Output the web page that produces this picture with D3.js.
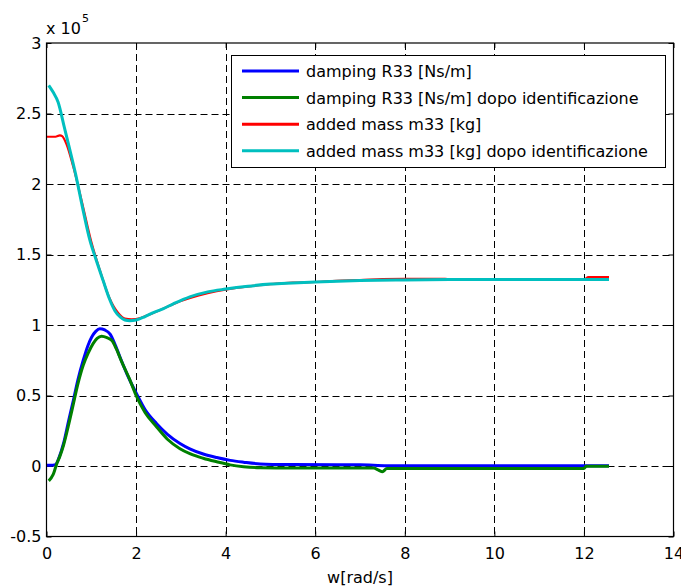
<!DOCTYPE html>
<html><head><meta charset="utf-8">
<script src="https://cdn.jsdelivr.net/npm/d3@7"></script>
<style>body{margin:0;background:#fff}svg{display:block}text{font-family:"DejaVu Sans",sans-serif}</style>
</head><body><svg id="c" width="681" height="588"></svg>
<script>
const xTicks = [0,2,4,6,8,10,12,14];
const yTicks = [-0.5,0,0.5,1,1.5,2,2.5,3];
const yTickLabels = ["-0.5","0","0.5","1","1.5","2","2.5","3"];
const seriesNames = ["damping R33 [Ns/m]","damping R33 [Ns/m] dopo identificazione","added mass m33 [kg]","added mass m33 [kg] dopo identificazione"];
const seriesColors = ["#0000ff","#008000","#ff0000","#00bfbf"];

const blueX = [0,0.1,0.2,0.28,0.38,0.5,0.6,0.7,0.82,0.92,1.01,1.1,1.19,1.3,1.42,1.52,1.64,1.8,2.01,2.2,2.46,2.7,2.98,3.2,3.5,3.8,4.1,4.4,4.77,5.5,6.5,7.0,7.6,9,10.5,12,12.56];
const blueY = [0.005,0.005,0.01,0.06,0.16,0.33,0.466,0.61,0.75,0.85,0.915,0.955,0.974,0.965,0.935,0.87,0.773,0.65,0.513,0.40,0.30,0.225,0.16,0.122,0.085,0.06,0.04,0.027,0.015,0.01,0.008,0.008,0.002,0.002,0.002,0.002,0.002];

const greenX = [0.05,0.15,0.23,0.3,0.38,0.5,0.6,0.7,0.82,0.93,1.04,1.13,1.23,1.35,1.46,1.56,1.68,1.85,2.01,2.2,2.46,2.7,2.98,3.2,3.5,3.8,4.1,4.4,4.77,5.5,6.5,7.3,7.42,7.5,7.6,9,10.5,12.0,12.05,12.56];
const greenY = [-0.105,-0.06,0.017,0.07,0.147,0.30,0.44,0.58,0.714,0.80,0.868,0.905,0.92,0.91,0.89,0.83,0.738,0.62,0.494,0.38,0.277,0.19,0.123,0.088,0.055,0.03,0.008,-0.005,-0.012,-0.015,-0.015,-0.015,-0.03,-0.04,-0.018,-0.018,-0.018,-0.018,-0.002,-0.002];

const redX = [0,0.1,0.2,0.3,0.35,0.45,0.6,0.8,1.0,1.2,1.4,1.6,1.75,1.9,2.1,2.3,2.6,3.0,3.4,3.8,4.2,4.6,5.0,5.5,6.0,6.6,7.0,7.5,8.0,8.9,9.0,10,11,12.0,12.1,12.56];
const redY = [2.335,2.335,2.335,2.345,2.34,2.28,2.12,1.86,1.59,1.38,1.195,1.085,1.045,1.04,1.05,1.075,1.115,1.17,1.21,1.24,1.262,1.277,1.29,1.30,1.305,1.315,1.318,1.326,1.328,1.328,1.322,1.322,1.323,1.323,1.34,1.34];

const cyanX = [0.05,0.15,0.26,0.4,0.5,0.65,0.8,0.97,1.1,1.27,1.4,1.53,1.65,1.75,1.86,2.0,2.2,2.4,2.6,2.83,3.2,3.6,4.0,4.5,5.0,5.5,6.0,7.0,8.0,9.0,10,11,12,12.56];
const cyanY = [2.70,2.65,2.58,2.40,2.27,2.07,1.84,1.60,1.47,1.31,1.19,1.10,1.055,1.035,1.03,1.035,1.06,1.09,1.115,1.15,1.20,1.235,1.255,1.275,1.29,1.298,1.305,1.315,1.32,1.322,1.323,1.323,1.323,1.323];

const svg = d3.select("#c");
const L=46.5, R=673.5, T=43, B=536.5;
const x = d3.scaleLinear().domain([0,14]).range([L,R]);
const y = d3.scaleLinear().domain([-0.5,3]).range([B,T]);

// grid
const g = svg.append("g");
g.selectAll(".vg").data(xTicks.slice(1,-1)).join("line")
  .attr("x1",d=>Math.round(x(d))+0.5).attr("x2",d=>Math.round(x(d))+0.5)
  .attr("y1",T).attr("y2",B).attr("stroke","#000").attr("stroke-dasharray","7,4");
g.selectAll(".hg").data(yTicks.slice(1,-1)).join("line")
  .attr("y1",d=>Math.round(y(d))+0.5).attr("y2",d=>Math.round(y(d))+0.5)
  .attr("x1",L).attr("x2",R).attr("stroke","#000").attr("stroke-dasharray","7,4");

// axes with inner ticks
const xAxisB = d3.axisBottom(x).tickValues(xTicks).tickSizeInner(-5).tickSizeOuter(0).tickPadding(11).tickFormat(d3.format("d"));
const xAxisT = d3.axisTop(x).tickValues(xTicks).tickSizeInner(-5).tickSizeOuter(0).tickFormat("");
const yAxisL = d3.axisLeft(y).tickValues(yTicks).tickSizeInner(-5).tickSizeOuter(0).tickPadding(5).tickFormat((d,i)=>yTickLabels[i]);
const yAxisR = d3.axisRight(y).tickValues(yTicks).tickSizeInner(-5).tickSizeOuter(0).tickFormat("");
function style(sel){sel.select(".domain").remove();sel.selectAll("line").attr("stroke","#000");sel.selectAll("text").attr("fill","#000").style("font-size","16px").style("font-family","DejaVu Sans");}
svg.append("g").attr("transform",`translate(0,${B})`).call(xAxisB).call(style);
svg.append("g").attr("transform",`translate(0,${T})`).call(xAxisT).call(style);
svg.append("g").attr("transform",`translate(${L},0)`).call(yAxisL).call(style);
svg.append("g").attr("transform",`translate(${R},0)`).call(yAxisR).call(style);

// series
const line = d3.line().x(d=>x(d[0])).y(d=>y(d[1])).curve(d3.curveMonotoneX);
const series = [[blueX,blueY],[greenX,greenY],[redX,redY],[cyanX,cyanY]];
const widths=[3,3,2.2,3];
series.forEach((s,i)=>{
  svg.append("path").datum(d3.zip(s[0],s[1])).attr("d",line)
    .attr("fill","none").attr("stroke",seriesColors[i]).attr("stroke-width",widths[i]).attr("stroke-linejoin","round");
});

// box
svg.append("rect").attr("x",L).attr("y",T).attr("width",R-L).attr("height",B-T).attr("fill","none").attr("stroke","#000").attr("stroke-width",1.2);

// exponent label
const ex = svg.append("text").attr("x",46).attr("y",34).style("font-size","16px").attr("fill","#000");
ex.append("tspan").text("x 10");
ex.append("tspan").attr("dy",-12).attr("dx",1).style("font-size","11px").text("5");

// x label
svg.append("text").attr("x",(L+R)/2).attr("y",583).attr("text-anchor","middle").style("font-size","16px").text("w[rad/s]");

// legend
const lg = svg.append("g");
lg.append("rect").attr("x",231.5).attr("y",55.5).attr("width",434).attr("height",112).attr("fill","#fff").attr("stroke","#000").attr("stroke-width",1);
seriesNames.forEach((n,i)=>{
  const cy = 71 + i*26.6;
  lg.append("line").attr("x1",242).attr("x2",299).attr("y1",cy).attr("y2",cy).attr("stroke",seriesColors[i]).attr("stroke-width",3);
  lg.append("text").attr("x",306).attr("y",cy+6).style("font-size","16px").attr("fill","#000").text(n);
});
</script></body></html>
